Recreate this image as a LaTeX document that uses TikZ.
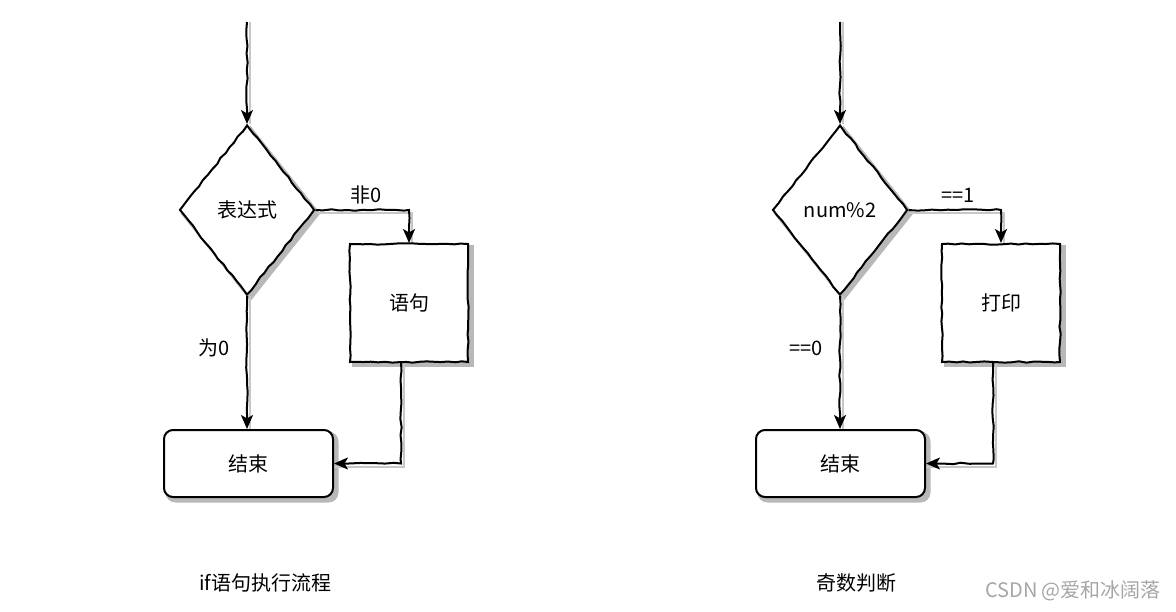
\documentclass[tikz,border=0pt]{standalone}
\usepackage{fontspec}
\setmainfont{Noto Sans CJK SC}
\usetikzlibrary{shapes.geometric,arrows.meta,decorations.pathmorphing,calc}
\pgfdeclarelayer{bg}
\pgfsetlayers{bg,main}
\begin{document}
\begin{tikzpicture}[x=1pt,y=-1pt,
  every node/.style={font=\fontsize{20}{24}\selectfont},
  sketch/.style={decorate,decoration={random steps,segment length=7pt,amplitude=0.7pt}},
  shp/.style={draw=black, line width=2pt, fill=white},
  dia/.style={shp, sketch, diamond, inner sep=0pt, minimum width=135pt, minimum height=170pt},
  sq/.style={shp, sketch, rectangle, inner sep=0pt, minimum width=118pt, minimum height=118pt},
  term/.style={shp, rectangle, rounded corners=9pt, inner sep=0pt, minimum width=169pt, minimum height=67pt},
  conn/.style={line width=2pt, decorate,
    decoration={random steps,segment length=8pt,amplitude=0.8pt,post length=15pt},
    -{Stealth[length=14pt,width=12pt,inset=3.5pt]}},
  shfill/.style={fill=black!28, draw=black!28, line width=2pt},
  shline/.style={draw=black!22, line width=2pt},
  lbl/.style={inner sep=0pt},
]
\useasboundingbox (0,0) rectangle (1176,612);

% ---------- left diagram ----------
\coordinate (t1) at (247,22);
\node[dia] (d1) at (247,210) {表达式};
\node[sq] (s1) at (409,303) {语句};
\node[term] (e1) at (248.5,463.5) {结束};
\draw[conn] (t1) -- (d1.north);
\draw[conn] (d1.east) -| (s1.north);
\draw[conn] (d1.south) -- (d1.south |- e1.north);
\draw[conn] ([xshift=-8pt]s1.south) |- (e1.east);
\node[lbl] (l1) at (366,195) {非0};
\node[lbl] (l2) at (214,348) {为0};
\node[lbl] (c1) at (265,583) {if语句执行流程};

% ---------- right diagram ----------
\coordinate (t2) at (840,22);
\node[dia] (d2) at (840,210) {num\%2};
\node[sq] (s2) at (1001,303) {打印};
\node[term] (e2) at (840.5,463.5) {结束};
\draw[conn] (t2) -- (d2.north);
\draw[conn] (d2.east) -| (s2.north);
\draw[conn] (d2.south) -- (d2.south |- e2.north);
\draw[conn] ([xshift=-8pt]s2.south) |- (e2.east);
\node[lbl] (l3) at (958,195) {==1};
\node[lbl] (l4) at (806,348) {==0};
\node[lbl] (c2) at (856,583) {奇数判断};

\node[lbl, text=black!35, font=\fontsize{20}{24}\selectfont] (wm) at (1073,591) {CSDN @爱和冰阔落};

% ---------- shadows ----------
\begin{pgfonlayer}{bg}
\foreach \d/\s/\e/\t in {d1/s1/e1/t1, d2/s2/e2/t2}{
  \fill[shfill] ($(\d.north)+(3.5,3.5)$) -- ($(\d.east)+(3.5,3.5)$) -- ($(\d.south)+(3.5,3.5)$) -- ($(\d.west)+(3.5,3.5)$) -- cycle;
  \fill[shfill] ($(\s.north west)+(3.5,3.5)$) rectangle ($(\s.south east)+(3.5,3.5)$);
  \fill[shfill, rounded corners=9pt] ($(\e.north west)+(3.5,3.5)$) rectangle ($(\e.south east)+(3.5,3.5)$);
  \draw[shline] ($(\t)+(3,0)$) -- ($(\d.north)+(3,0)$);
  \draw[shline] ($(\d.east)+(0,3)$) -| ($(\s.north)+(3,0)$);
  \draw[shline] ($(\d.south)+(3,0)$) -- ($(\d.south |- \e.north)+(3,0)$);
  \draw[shline] ($(\s.south)+(-5,0)$) |- ($(\e.east)+(0,3)$);
}
\end{pgfonlayer}
\end{tikzpicture}
\end{document}
